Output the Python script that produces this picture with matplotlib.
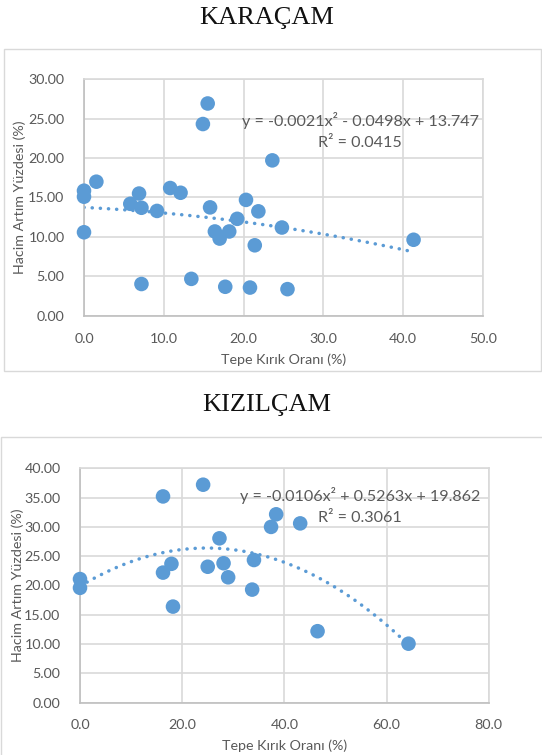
import matplotlib.pyplot as plt
import numpy as np
from matplotlib.patches import Rectangle

# KARAÇAM data (Tepe Kırık Oranı %, Hacim Artım Yüzdesi %)
kara_x = [0.0, 0.0, 0.0, 1.55, 5.8, 6.9, 7.2, 7.2, 9.15, 10.8, 12.1, 13.45, 14.9, 15.5,
          15.8, 16.4, 17.0, 17.7, 18.2, 19.2, 20.3, 20.8, 21.4, 21.85, 23.6, 24.8, 25.5, 41.3]
kara_y = [15.86, 15.1, 10.6, 17.0, 14.2, 15.5, 13.7, 4.05, 13.3, 16.2, 15.6, 4.7, 24.3, 26.9,
          13.75, 10.7, 9.8, 3.7, 10.7, 12.3, 14.7, 3.6, 8.95, 13.25, 19.7, 11.2, 3.4, 9.65]
kara_coef = [-0.0021, -0.0498, 13.747]
kara_r2 = 0.0415

# KIZILÇAM data
kiz_x = [0.0, 0.0, 16.25, 16.25, 17.9, 18.2, 24.1, 25.0, 27.3, 28.1, 29.0, 33.7, 34.05,
         37.4, 38.4, 43.1, 46.5, 64.3]
kiz_y = [21.1, 19.6, 35.2, 22.2, 23.7, 16.4, 37.2, 23.2, 28.05, 23.8, 21.4, 19.3, 24.35,
         30.0, 32.15, 30.6, 12.2, 10.07]
kiz_coef = [-0.0106, 0.5263, 19.862]
kiz_r2 = 0.3061

BLUE = '#5B9BD5'
TXT = '#595959'
GRID = '#d9d9d9'
FONT = 'Lato'


def eq_text(c):
    def term(v, first=False):
        if first:
            return f"{v:g}"
        return f"- {abs(v):g}" if v < 0 else f"+ {v:g}"
    return f"y = {term(c[0], True)}x\u00b2 {term(c[1])}x {term(c[2])}"


def draw_panel(ax, xs, ys, coef, r2, xmax, xstep, ymax, ystep, eq_xy, ylpad):
    ax.set_axisbelow(True)
    ax.grid(True, color=GRID, lw=1.2)
    xx = np.linspace(min(xs), max(xs), 300)
    ax.plot(xx, np.polyval(coef, xx), ls=(0, (0.05, 2.3)), lw=2.5, color=BLUE,
            dash_capstyle='round', zorder=2)
    ax.scatter(xs, ys, s=110, color=BLUE, edgecolors='none', zorder=3, clip_on=False)
    ax.set_xlim(0, xmax)
    ax.set_ylim(0, ymax)
    ax.set_xticks(np.arange(0, xmax + 0.1, xstep))
    ax.set_yticks(np.arange(0, ymax + 0.1, ystep))
    ax.set_xticklabels([f"{v:.1f}" for v in ax.get_xticks()])
    ax.set_yticklabels([f"{v:.2f}" for v in ax.get_yticks()])
    ax.tick_params(length=0, colors=TXT, labelsize=10.3, pad=12)
    for lab in ax.get_xticklabels() + ax.get_yticklabels():
        lab.set_family(FONT)
    ax.tick_params(axis='y', pad=14)
    for s in ['top', 'right']:
        ax.spines[s].set_color(GRID)
        ax.spines[s].set_linewidth(1.2)
    for s in ['left', 'bottom']:
        ax.spines[s].set_color('#bfbfbf')
        ax.spines[s].set_linewidth(1.2)
    ax.set_xlabel('Tepe Kırık Oranı (%)', family=FONT, fontsize=10.3, color=TXT, labelpad=6)
    ax.set_ylabel('Hacim Artım Yüzdesi (%)', family=FONT, fontsize=10.3, color=TXT, labelpad=ylpad)
    ax.text(eq_xy[0], eq_xy[1], eq_text(coef), transform=ax.transAxes, ha='center',
            va='center', family=FONT, fontsize=11.6, color=TXT)
    ax.text(eq_xy[0], eq_xy[2], f"R\u00b2 = {r2:.4f}", transform=ax.transAxes,
            ha='center', va='center', family=FONT, fontsize=11.6, color=TXT)


fig = plt.figure(figsize=(5.42, 7.55), dpi=100)
W, H = 542, 755

# chart frames
fig.add_artist(Rectangle((4 / W, 1 - 371 / H), 537 / W, 322 / H, transform=fig.transFigure,
                         fill=False, edgecolor=GRID, lw=1))
fig.add_artist(Rectangle((1 / W, -0.01), 545 / W, 1 - 437 / H + 0.01, transform=fig.transFigure,
                         fill=False, edgecolor=GRID, lw=1))

fig.text(267 / W, 1 - 18 / H, 'KARAÇAM', ha='center', va='center',
         family='Liberation Serif', fontsize=19, color='#111111')
fig.text(267 / W, 1 - 405 / H, 'KIZILÇAM', ha='center', va='center',
         family='Liberation Serif', fontsize=19, color='#111111')

ax1 = fig.add_axes([84 / W, 1 - 316 / H, 399 / W, 237 / H])
draw_panel(ax1, kara_x, kara_y, kara_coef, kara_r2, 50, 10, 30, 5, (0.692, 0.827, 0.73), 2)

ax2 = fig.add_axes([80 / W, 1 - 702.7 / H, 408.7 / W, 234.4 / H])
draw_panel(ax2, kiz_x, kiz_y, kiz_coef, kiz_r2, 80, 20, 40, 5, (0.685, 0.886, 0.787), 0)

fig.savefig('out.png', dpi=100)
